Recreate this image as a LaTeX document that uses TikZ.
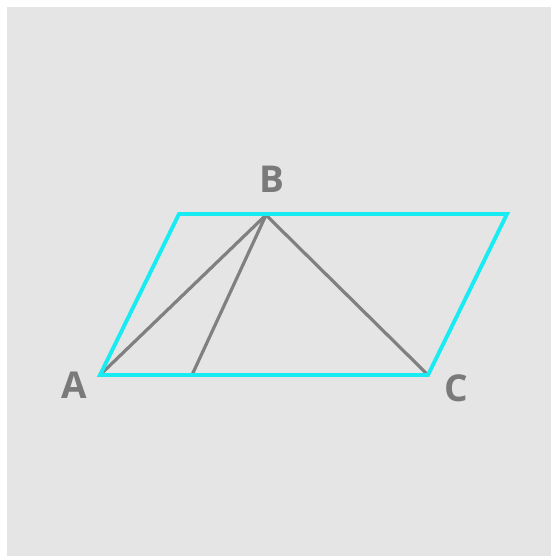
\documentclass[tikz,border=0pt]{standalone}
\usepackage{fontspec}
\setmainfont{Open Sans}
\usepackage{tikz}
\usetikzlibrary{calc}
\definecolor{pgback}{RGB}{229,229,229}
\definecolor{pgcyan}{RGB}{24,236,242}
\definecolor{pggray}{RGB}{128,128,128}
\definecolor{pglabel}{RGB}{122,122,122}

\begin{document}
\begin{tikzpicture}[x={(1pt,0)},y={(0,-1pt)},
    side/.style={pgcyan,line width=3.9pt,line join=miter},
    seg/.style={pggray,line width=3.2pt,line cap=round},
    lbl/.style={pglabel,font=\fontsize{37}{37}\selectfont\bfseries,inner sep=0pt}]
  \useasboundingbox (0,0) rectangle (551,556);
  \fill[white] (0,0) rectangle (551,556);
  \fill[pgback] (7,7) rectangle (551,556);
  % vertices
  \coordinate (A) at (100,375);
  \coordinate (B) at (266,215);
  \coordinate (C) at (428,375);
  \coordinate (D) at (179,214);
  \coordinate (E) at (507,214);
  \coordinate (M) at (192,375);
  \draw[seg] (A) -- (B) -- (C);
  \draw[seg] (M) -- (B);
  \draw[side] (A) -- (D) -- (E) -- (C) -- cycle;
  \node[lbl] (la) at (74,385) {A};
  \node[lbl] (lb) at (272,179) {B};
  \node[lbl] (lc) at (456,388) {C};
\end{tikzpicture}
\end{document}
